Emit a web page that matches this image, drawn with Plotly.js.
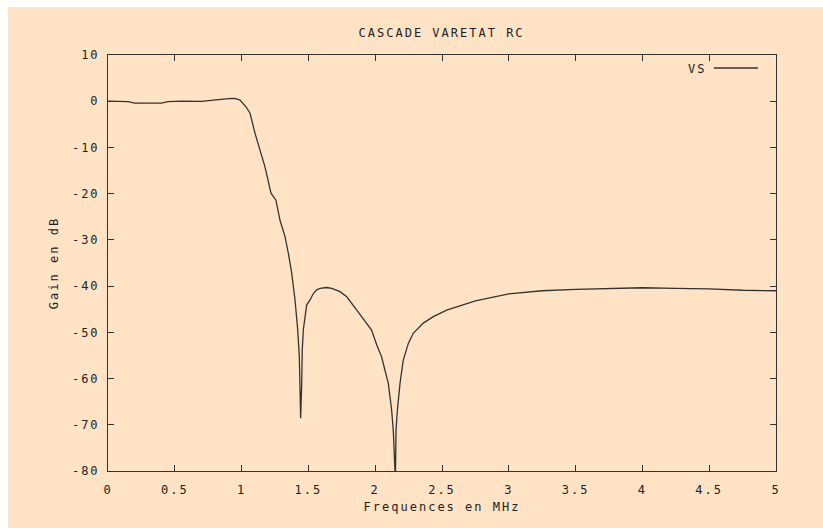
<!DOCTYPE html>
<html>
<head>
<meta charset="utf-8">
<script src="https://cdn.plot.ly/plotly-3.0.1.min.js"></script>
<style>
  html, body { margin: 0; padding: 0; background: #ffffff; }
  #chart { position: absolute; left: 8px; top: 7px; width: 815px; height: 521px; }
  #chart text { letter-spacing: 2px; }
</style>
</head>
<body>
<div id="chart"></div>
<script>
// Frequency (MHz)
const freq = [0, 0.1, 0.15, 0.2, 0.3, 0.4, 0.45, 0.55, 0.7, 0.8, 0.9, 0.95, 0.988,
  1.033, 1.063, 1.10, 1.138, 1.175, 1.22, 1.257, 1.287, 1.325, 1.35, 1.375, 1.40, 1.42,
  1.432, 1.44, 1.442, 1.45, 1.454, 1.462, 1.474, 1.487, 1.512, 1.537, 1.562, 1.587, 1.637,
  1.674, 1.737, 1.787, 1.862, 1.911, 1.973, 2.011, 2.048, 2.073, 2.098, 2.123, 2.136, 2.148,
  2.152, 2.156, 2.166, 2.186, 2.21, 2.248, 2.285, 2.36, 2.435, 2.535, 2.635,
  2.75, 3.0, 3.25, 3.5, 3.75, 4.0, 4.25, 4.5, 4.75, 5.0];
// Gain VS (dB)
const gainVS = [0, 0, -0.1, -0.4, -0.4, -0.4, -0.1, 0, -0.05, 0.3, 0.55, 0.6, 0.26,
  -1.2, -2.6, -6.9, -10.6, -14.2, -19.9, -21.4, -25.7, -29.3, -32.9, -37.2, -43.0, -49.5,
  -55.3, -63.2, -68.6, -61.0, -53.8, -49.5, -46.6, -44.1, -43.0, -41.6, -40.8, -40.5, -40.3,
  -40.5, -41.2, -42.3, -45.2, -47.0, -49.5, -52.7, -55.3, -58.2, -61.0, -66.8, -71.5, -80.0,
  -80.0, -71.1, -66.8, -61.0, -56.0, -52.4, -50.2, -48.0, -46.6, -45.2, -44.3,
  -43.2, -41.7, -41.0, -40.7, -40.45, -40.35, -40.5, -40.6, -40.9, -41.0];

const seriesName = 'VS';
const chartTitle = 'CASCADE VARETAT RC';
const xTitle = 'Frequences en MHz';
const yTitle = 'Gain en dB';
const xTickVals = [0, 0.5, 1, 1.5, 2, 2.5, 3, 3.5, 4, 4.5, 5];
const xTickText = ['0', '0.5', '1', '1.5', '2', '2.5', '3', '3.5', '4', '4.5', '5'];
const yTickVals = [-80, -70, -60, -50, -40, -30, -20, -10, 0, 10];
const yTickText = ['-80', '-70', '-60', '-50', '-40', '-30', '-20', '-10', '0', '10'];

const ink = '#333333';
const fontFam = '"DejaVu Sans Mono", "Liberation Mono", monospace';

const trace = {
  x: freq, y: gainVS, type: 'scatter', mode: 'lines', name: seriesName,
  line: { color: ink, width: 1.3 }, showlegend: false, hoverinfo: 'skip'
};

const axisCommon = {
  showline: true, linecolor: ink, linewidth: 1, mirror: 'ticks',
  ticks: 'inside', ticklen: 6, tickwidth: 1, tickcolor: ink,
  showgrid: false, zeroline: false, tickmode: 'array',
  tickfont: { family: fontFam, size: 12, color: '#222' }
};

const layout = {
  width: 815, height: 521,
  margin: { l: 100, r: 47, t: 48, b: 57, pad: 0 },
  paper_bgcolor: '#ffe3c4', plot_bgcolor: '#ffe3c4',
  font: { family: fontFam, size: 12, color: '#222' },
  title: { text: chartTitle, x: 0.532, xanchor: 'center', y: 0.95, yref: 'container', yanchor: 'middle',
           font: { family: fontFam, size: 12, color: '#222' } },
  xaxis: Object.assign({}, axisCommon, {
    range: [0, 5], tickvals: xTickVals, ticktext: xTickText, ticklabelstandoff: 8,
    title: { text: xTitle, standoff: 6, font: { family: fontFam, size: 12, color: '#222' } }
  }),
  yaxis: Object.assign({}, axisCommon, {
    range: [-80, 10], tickvals: yTickVals, ticktext: yTickText, ticklabelstandoff: 5,
    title: { text: yTitle, standoff: 16, font: { family: fontFam, size: 12, color: '#222' } }
  }),
  shapes: [{
    type: 'line', xref: 'paper', yref: 'paper', x0: 0.907, x1: 0.973, y0: 0.969, y1: 0.969,
    line: { color: ink, width: 1.5 }
  }],
  annotations: [{
    text: seriesName, xref: 'paper', yref: 'paper', x: 0.895, y: 0.966,
    xanchor: 'right', yanchor: 'middle', showarrow: false,
    font: { family: fontFam, size: 12, color: '#222' }
  }]
};

Plotly.newPlot('chart', [trace], layout, { staticPlot: true, displayModeBar: false });
</script>
</body>
</html>
